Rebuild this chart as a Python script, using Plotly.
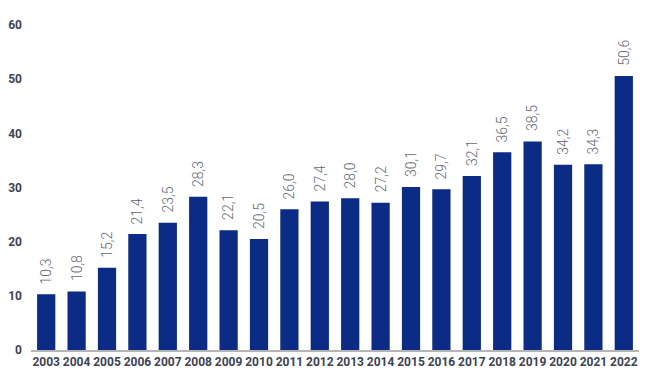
import plotly.graph_objects as go

years = [str(y) for y in range(2003, 2023)]
values = [10.3, 10.8, 15.2, 21.4, 23.5, 28.3, 22.1, 20.5, 26.0, 27.4, 28.0, 27.2,
          30.1, 29.7, 32.1, 36.5, 38.5, 34.2, 34.3, 50.6]
labels = [f"{v:.1f}".replace(".", ",") for v in values]
y_ticks = [0, 10, 20, 30, 40, 50, 60]

fig = go.Figure(go.Bar(
    x=years, y=values,
    marker=dict(color="#0b2b84", line=dict(width=0)),
    cliponaxis=False,
))
for i, (v, lab) in enumerate(zip(values, labels)):
    fig.add_annotation(x=i, y=v, text=lab, textangle=-90, showarrow=False,
                       xanchor="center", yanchor="bottom", yshift=8,
                       font=dict(family="Roboto", size=14, color="#626773", weight=300))
fig.update_layout(
    width=642, height=382,
    margin=dict(l=23, r=11, t=17, b=40),
    paper_bgcolor="white", plot_bgcolor="white",
    bargap=0.4, showlegend=False,
    xaxis=dict(type="category", range=[-0.5, len(years) - 0.5],
               showline=True, linecolor="#b5b5b5", linewidth=1.5, ticks="",
               tickfont=dict(family="Roboto", size=12, color="#3d4452", weight="bold"),
               showgrid=False, automargin=False),
    yaxis=dict(range=[0, 60], tickvals=y_ticks, showgrid=False, zeroline=False,
               tickfont=dict(family="Roboto", size=12, color="#3d4452", weight="bold"),
               ticklabelstandoff=8, automargin=False),
)
fig.write_html("out.html")
